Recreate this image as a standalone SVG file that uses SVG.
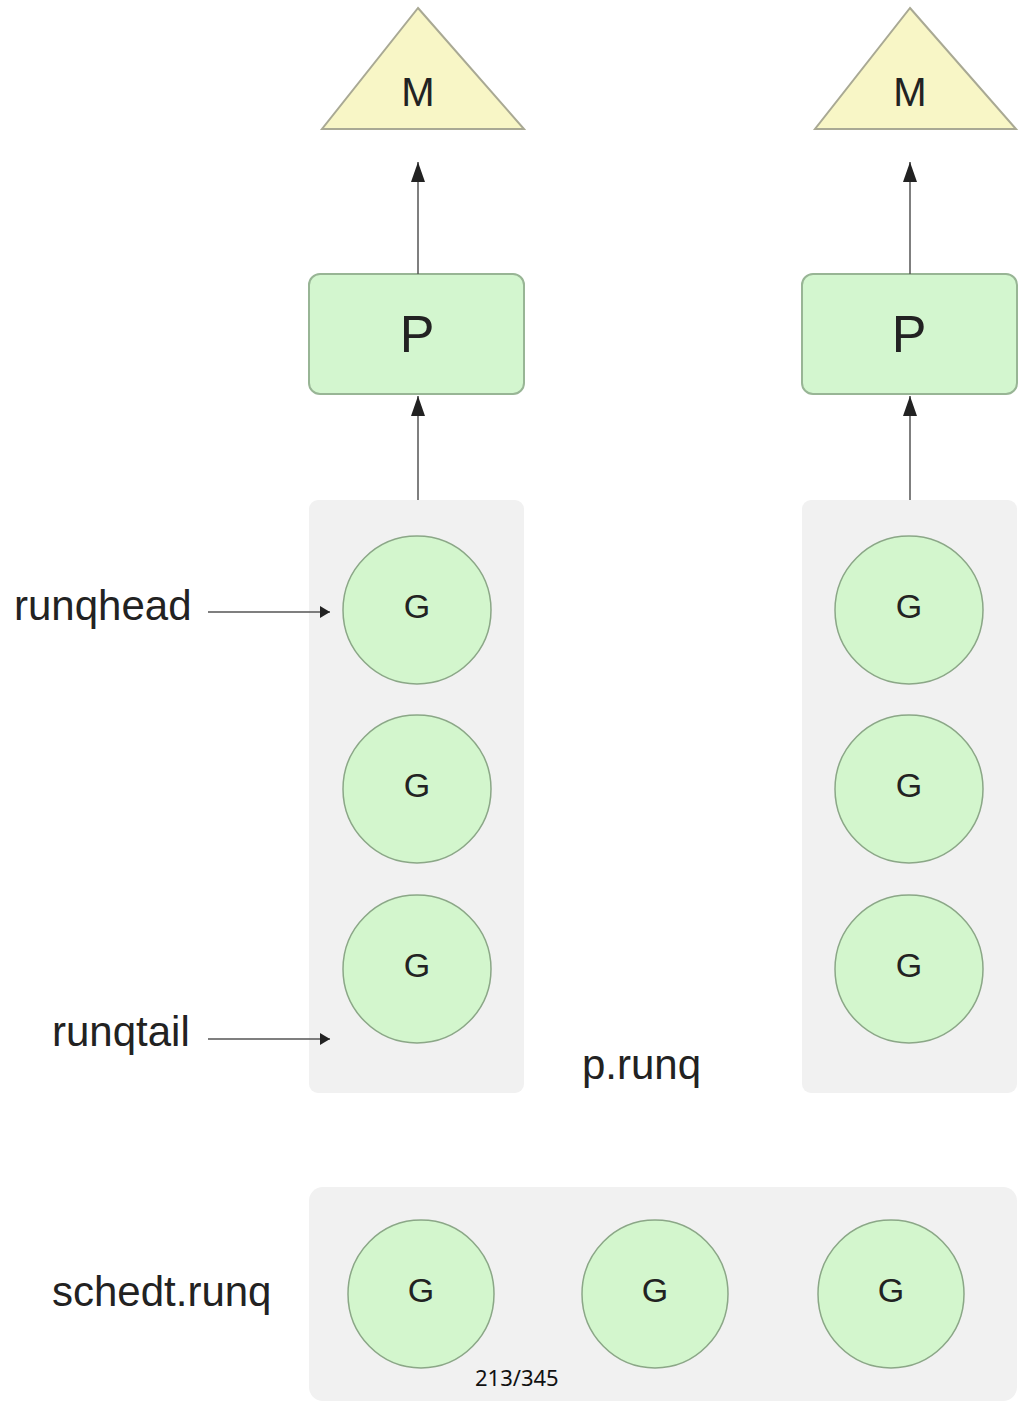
<svg xmlns="http://www.w3.org/2000/svg" width="1033" height="1411" viewBox="0 0 1033 1411">
<style>
.m{fill:#f8f6c6;stroke:#a9a994;stroke-width:2}
.p{fill:#d3f6cf;stroke:#98b595;stroke-width:2}
.g{fill:#d3f6cd;stroke:#8ba787;stroke-width:1.5}
.box{fill:#f1f1f1}
.t{font-family:"Liberation Sans",Arial,sans-serif;fill:#222;text-anchor:middle}
.lbl{font-family:"Liberation Sans",Arial,sans-serif;fill:#222;font-size:42px}
.c{stroke:#555;stroke-width:1.5;fill:none}
</style>
<defs>
<marker id="ah" markerWidth="12" markerHeight="12" refX="10" refY="6" orient="auto" markerUnits="userSpaceOnUse">
<path d="M0,0 L10,6 L0,12 Z" fill="#222"/>
</marker>
<marker id="ah2" markerWidth="20" markerHeight="14" refX="20" refY="7" orient="auto" markerUnits="userSpaceOnUse">
<path d="M0,0 L20,7 L0,14 Z" fill="#222"/>
</marker>
</defs>
<rect width="1033" height="1411" fill="#fff"/>
<g id="queue-left"><rect class="box" x="309" y="500" width="215" height="593" rx="9"/></g>
<g id="queue-right"><rect class="box" x="802" y="500" width="215" height="593" rx="9"/></g>
<g id="queue-global"><rect class="box" x="309" y="1187" width="708" height="214" rx="14"/></g>
<g id="m1"><polygon class="m" points="418,8 524,129 322,129"/><text class="t" x="418" y="106" font-size="40">M</text></g>
<g id="m2"><polygon class="m" points="910,8 1016,129 815,129"/><text class="t" x="910" y="106" font-size="40">M</text></g>
<g id="p1"><rect class="p" x="309" y="274" width="215" height="120" rx="11"/><text class="t" x="417" y="352" font-size="52">P</text></g>
<g id="p2"><rect class="p" x="802" y="274" width="215" height="120" rx="11"/><text class="t" x="909" y="352" font-size="52">P</text></g>
<g id="g1"><circle class="g" cx="417" cy="610" r="74"/><text class="t" x="417" y="618" font-size="34">G</text></g>
<g id="g2"><circle class="g" cx="417" cy="789" r="74"/><text class="t" x="417" y="797" font-size="34">G</text></g>
<g id="g3"><circle class="g" cx="417" cy="969" r="74"/><text class="t" x="417" y="977" font-size="34">G</text></g>
<g id="g4"><circle class="g" cx="909" cy="610" r="74"/><text class="t" x="909" y="618" font-size="34">G</text></g>
<g id="g5"><circle class="g" cx="909" cy="789" r="74"/><text class="t" x="909" y="797" font-size="34">G</text></g>
<g id="g6"><circle class="g" cx="909" cy="969" r="74"/><text class="t" x="909" y="977" font-size="34">G</text></g>
<g id="g7"><ellipse class="g" cx="421" cy="1294" rx="73" ry="74"/><text class="t" x="421" y="1302" font-size="34">G</text></g>
<g id="g8"><ellipse class="g" cx="655" cy="1294" rx="73" ry="74"/><text class="t" x="655" y="1302" font-size="34">G</text></g>
<g id="g9"><ellipse class="g" cx="891" cy="1294" rx="73" ry="74"/><text class="t" x="891" y="1302" font-size="34">G</text></g>
<g id="labels">
<text class="lbl" x="14" y="620">runqhead</text>
<text class="lbl" x="52" y="1046">runqtail</text>
<text class="lbl" x="582" y="1079">p.runq</text>
<text class="lbl" x="52" y="1306">schedt.runq</text>
<text x="475" y="1386" font-family="'Noto Sans','Open Sans',sans-serif" font-size="22" fill="#111">213/345</text>
</g>
<g id="connectors">
<line class="c" x1="418" y1="274" x2="418" y2="162" marker-end="url(#ah2)"/>
<line class="c" x1="910" y1="274" x2="910" y2="162" marker-end="url(#ah2)"/>
<line class="c" x1="418" y1="500" x2="418" y2="396" marker-end="url(#ah2)"/>
<line class="c" x1="910" y1="500" x2="910" y2="396" marker-end="url(#ah2)"/>
<line class="c" x1="208" y1="612" x2="330" y2="612" marker-end="url(#ah)"/>
<line class="c" x1="208" y1="1039" x2="330" y2="1039" marker-end="url(#ah)"/>
</g>
</svg>
